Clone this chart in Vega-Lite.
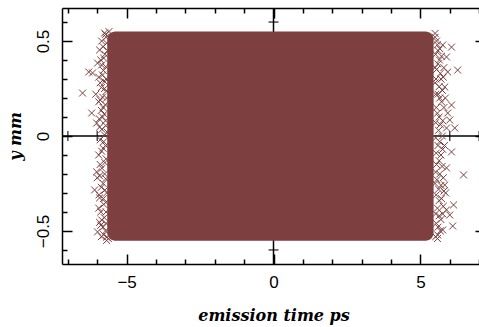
{
  "$schema": "https://vega.github.io/schema/vega-lite/v6.json",
  "width": 423,
  "height": 256,
  "autosize": {"type": "none"},
  "padding": {"left": 62, "top": 8, "right": -6, "bottom": 63},
  "background": "white",
  "config": {
    "view": {"stroke": null},
    "axis": {
      "grid": false,
      "domainColor": "black",
      "domainWidth": 1.5,
      "tickColor": "black",
      "tickWidth": 1.5,
      "labelFont": "Liberation Sans",
      "labelFontSize": 17,
      "labelColor": "black",
      "titleFont": "DejaVu Serif",
      "titleFontStyle": "italic",
      "titleFontWeight": "bold",
      "titleFontSize": 16,
      "titleColor": "black"
    }
  },
  "datasets": {
    "block": [{"x1": -5.66, "x2": 5.45, "y1": -0.552, "y2": 0.55}],
    "zero": [{"v": 0}],
    "xticks": [
      {"x": -7, "y": 0}, {"x": -6, "y": 0}, {"x": -5, "y": 0}, {"x": -4, "y": 0}, {"x": -3, "y": 0},
      {"x": -2, "y": 0}, {"x": -1, "y": 0}, {"x": 0, "y": 0}, {"x": 1, "y": 0}, {"x": 2, "y": 0},
      {"x": 3, "y": 0}, {"x": 4, "y": 0}, {"x": 5, "y": 0}, {"x": 6, "y": 0}, {"x": 7, "y": 0}
    ],
    "yticks": [
      {"x": 0, "y": -0.6}, {"x": 0, "y": -0.5}, {"x": 0, "y": -0.4}, {"x": 0, "y": -0.3},
      {"x": 0, "y": -0.2}, {"x": 0, "y": -0.1}, {"x": 0, "y": 0}, {"x": 0, "y": 0.1},
      {"x": 0, "y": 0.2}, {"x": 0, "y": 0.3}, {"x": 0, "y": 0.4}, {"x": 0, "y": 0.5}, {"x": 0, "y": 0.6}
    ],
    "pts": [
      {"x": -5.75, "y": 0.542}, {"x": -5.68, "y": 0.489}, {"x": -5.92, "y": 0.453}, {"x": -5.99, "y": 0.384},
      {"x": -5.85, "y": 0.374}, {"x": -6.29, "y": 0.337}, {"x": -6.16, "y": 0.332}, {"x": -5.82, "y": 0.321},
      {"x": -6.5, "y": 0.226}, {"x": -6.19, "y": 0.121}, {"x": -6.02, "y": 0.068}, {"x": -5.92, "y": 0.047},
      {"x": -5.82, "y": 0.1}, {"x": -6.02, "y": -0.189}, {"x": -6.09, "y": -0.284}, {"x": -5.92, "y": -0.326},
      {"x": -5.85, "y": -0.442}, {"x": -5.99, "y": -0.505}, {"x": -5.68, "y": -0.532},
      {"x": -5.7, "y": 0.52}, {"x": -5.65, "y": 0.45}, {"x": -5.78, "y": 0.41}, {"x": -5.7, "y": 0.3},
      {"x": -5.75, "y": 0.25}, {"x": -5.68, "y": 0.2}, {"x": -5.8, "y": 0.15}, {"x": -5.72, "y": 0.08},
      {"x": -5.66, "y": 0.02}, {"x": -5.78, "y": -0.03}, {"x": -5.85, "y": -0.08}, {"x": -5.7, "y": -0.12},
      {"x": -5.9, "y": -0.15}, {"x": -5.75, "y": -0.2}, {"x": -5.8, "y": -0.25}, {"x": -5.68, "y": -0.3},
      {"x": -5.78, "y": -0.36}, {"x": -5.7, "y": -0.4}, {"x": -5.88, "y": -0.47}, {"x": -5.72, "y": -0.5},
      {"x": -5.62, "y": -0.54}, {"x": -5.95, "y": 0.18}, {"x": -5.9, "y": 0.28}, {"x": -6.0, "y": -0.22},
      {"x": -5.95, "y": -0.38}, {"x": -6.05, "y": 0.22}, {"x": -5.85, "y": 0.5}, {"x": -5.6, "y": 0.55},
      {"x": -5.72, "y": 0.535}, {"x": -5.8, "y": 0.47}, {"x": -5.74, "y": 0.43}, {"x": -5.88, "y": 0.4},
      {"x": -5.71, "y": 0.365}, {"x": -5.79, "y": 0.345}, {"x": -5.95, "y": 0.31}, {"x": -5.74, "y": 0.285},
      {"x": -5.86, "y": 0.255}, {"x": -5.7, "y": 0.235}, {"x": -5.82, "y": 0.205}, {"x": -5.9, "y": 0.19},
      {"x": -5.73, "y": 0.165}, {"x": -5.86, "y": 0.135}, {"x": -5.76, "y": 0.115}, {"x": -5.93, "y": 0.09},
      {"x": -5.71, "y": 0.055}, {"x": -5.84, "y": 0.035}, {"x": -5.75, "y": 0.005}, {"x": -5.9, "y": -0.02},
      {"x": -5.72, "y": -0.05}, {"x": -5.8, "y": -0.065}, {"x": -5.95, "y": -0.1}, {"x": -5.74, "y": -0.14},
      {"x": -5.84, "y": -0.17}, {"x": -5.92, "y": -0.21}, {"x": -5.71, "y": -0.225}, {"x": -5.86, "y": -0.27},
      {"x": -5.74, "y": -0.285}, {"x": -5.94, "y": -0.31}, {"x": -5.79, "y": -0.33}, {"x": -5.71, "y": -0.35},
      {"x": -5.88, "y": -0.4}, {"x": -5.76, "y": -0.43}, {"x": -5.92, "y": -0.455}, {"x": -5.8, "y": -0.48},
      {"x": -5.7, "y": -0.46}, {"x": -5.78, "y": -0.52}, {"x": -5.86, "y": -0.53}, {"x": -5.68, "y": -0.55},
      {"x": 5.76, "y": 0.479}, {"x": 6.06, "y": 0.468}, {"x": 5.89, "y": 0.416}, {"x": 6.27, "y": 0.347},
      {"x": 5.93, "y": 0.337}, {"x": 5.83, "y": 0.258}, {"x": 6.06, "y": 0.163}, {"x": 5.93, "y": 0.121},
      {"x": 6.0, "y": 0.084}, {"x": 6.17, "y": 0.042}, {"x": 5.89, "y": 0.042}, {"x": 6.06, "y": -0.084},
      {"x": 5.89, "y": -0.168}, {"x": 6.47, "y": -0.205}, {"x": 5.83, "y": -0.258}, {"x": 5.86, "y": -0.3},
      {"x": 6.13, "y": -0.363}, {"x": 5.89, "y": -0.389}, {"x": 6.0, "y": -0.416}, {"x": 6.1, "y": -0.474},
      {"x": 5.76, "y": -0.495}, {"x": 5.59, "y": -0.521},
      {"x": 5.5, "y": 0.54}, {"x": 5.55, "y": 0.5}, {"x": 5.6, "y": 0.45}, {"x": 5.65, "y": 0.4},
      {"x": 5.55, "y": 0.35}, {"x": 5.7, "y": 0.3}, {"x": 5.6, "y": 0.22}, {"x": 5.72, "y": 0.18},
      {"x": 5.58, "y": 0.12}, {"x": 5.68, "y": 0.06}, {"x": 5.75, "y": 0.0}, {"x": 5.6, "y": -0.05},
      {"x": 5.7, "y": -0.1}, {"x": 5.55, "y": -0.15}, {"x": 5.78, "y": -0.22}, {"x": 5.62, "y": -0.28},
      {"x": 5.72, "y": -0.33}, {"x": 5.58, "y": -0.38}, {"x": 5.7, "y": -0.44}, {"x": 5.6, "y": -0.48},
      {"x": 5.52, "y": -0.53}, {"x": 5.8, "y": 0.36}, {"x": 5.82, "y": -0.05}, {"x": 5.85, "y": 0.2},
      {"x": 5.5, "y": 0.28}, {"x": 5.5, "y": -0.25},
      {"x": 5.5, "y": 0.52}, {"x": 5.58, "y": 0.48}, {"x": 5.66, "y": 0.46}, {"x": 5.52, "y": 0.43},
      {"x": 5.72, "y": 0.42}, {"x": 5.6, "y": 0.38}, {"x": 5.5, "y": 0.36}, {"x": 5.68, "y": 0.33},
      {"x": 5.78, "y": 0.31}, {"x": 5.53, "y": 0.3}, {"x": 5.64, "y": 0.26}, {"x": 5.75, "y": 0.24},
      {"x": 5.52, "y": 0.22}, {"x": 5.66, "y": 0.2}, {"x": 5.8, "y": 0.15}, {"x": 5.54, "y": 0.15},
      {"x": 5.64, "y": 0.1}, {"x": 5.76, "y": 0.08}, {"x": 5.52, "y": 0.07}, {"x": 5.62, "y": 0.03},
      {"x": 5.52, "y": -0.01}, {"x": 5.66, "y": -0.03}, {"x": 5.76, "y": -0.07}, {"x": 5.54, "y": -0.09},
      {"x": 5.64, "y": -0.13}, {"x": 5.74, "y": -0.16}, {"x": 5.52, "y": -0.19}, {"x": 5.66, "y": -0.2},
      {"x": 5.56, "y": -0.23}, {"x": 5.7, "y": -0.26}, {"x": 5.8, "y": -0.29}, {"x": 5.54, "y": -0.31},
      {"x": 5.64, "y": -0.34}, {"x": 5.78, "y": -0.37}, {"x": 5.52, "y": -0.41}, {"x": 5.64, "y": -0.42},
      {"x": 5.76, "y": -0.41}, {"x": 5.54, "y": -0.46}, {"x": 5.68, "y": -0.5}, {"x": 5.58, "y": -0.54}
    ]
  },
  "layer": [
    {
      "data": {"name": "zero"},
      "mark": {"type": "rule", "color": "black", "strokeWidth": 1.5},
      "encoding": {
        "y": {"field": "v", "type": "quantitative", "scale": {"domain": [-0.674, 0.674], "nice": false, "zero": false}, "axis": null}
      }
    },
    {
      "data": {"name": "zero"},
      "mark": {"type": "rule", "color": "black", "strokeWidth": 1.5},
      "encoding": {
        "x": {"field": "v", "type": "quantitative", "scale": {"domain": [-7.2, 7.2], "nice": false, "zero": false}, "axis": null}
      }
    },
    {
      "data": {"name": "xticks"},
      "mark": {"type": "tick", "orient": "vertical", "color": "black", "size": 10, "thickness": 1.5},
      "encoding": {
        "x": {
          "field": "x", "type": "quantitative",
          "scale": {"domain": [-7.2, 7.2], "nice": false, "zero": false},
          "axis": {
            "orient": "bottom",
            "values": [-7, -6, -5, -4, -3, -2, -1, 0, 1, 2, 3, 4, 5, 6, 7],
            "tickSize": {"condition": {"test": "datum.value % 5 === 0", "value": -10}, "value": -5},
            "labelExpr": "datum.value === 0 ? '0' : datum.value === 5 ? '5' : datum.value === -5 ? '\u22125' : ''",
            "labelPadding": 20,
            "title": "emission time ps",
            "titlePadding": 17
          }
        },
        "y": {
          "field": "y", "type": "quantitative",
          "scale": {"domain": [-0.674, 0.674], "nice": false, "zero": false},
          "axis": {
            "orient": "left",
            "values": [-0.6, -0.5, -0.4, -0.3, -0.2, -0.1, 0, 0.1, 0.2, 0.3, 0.4, 0.5, 0.6],
            "tickSize": {"condition": {"test": "abs(datum.value*2 - round(datum.value*2)) < 0.001", "value": -10}, "value": -5},
            "labelExpr": "abs(datum.value) < 0.001 ? '0' : abs(abs(datum.value) - 0.5) < 0.001 ? (datum.value < 0 ? '\u22120.5' : '0.5') : ''",
            "labelAngle": 270,
            "labelAlign": "center",
            "labelBaseline": "bottom",
            "labelPadding": 20,
            "title": "y mm",
            "titlePadding": 11
          }
        }
      }
    },
    {
      "data": {"name": "yticks"},
      "mark": {"type": "tick", "orient": "horizontal", "color": "black", "size": 10, "thickness": 1.5},
      "encoding": {
        "x": {
          "field": "x", "type": "quantitative",
          "scale": {"domain": [-7.2, 7.2], "nice": false, "zero": false},
          "axis": {
            "orient": "top",
            "values": [-7, -6, -5, -4, -3, -2, -1, 0, 1, 2, 3, 4, 5, 6, 7],
            "tickSize": {"condition": {"test": "datum.value % 5 === 0", "value": -10}, "value": -5},
            "labels": false,
            "title": null
          }
        },
        "y": {
          "field": "y", "type": "quantitative",
          "scale": {"domain": [-0.674, 0.674], "nice": false, "zero": false},
          "axis": {
            "orient": "right",
            "values": [-0.6, -0.5, -0.4, -0.3, -0.2, -0.1, 0, 0.1, 0.2, 0.3, 0.4, 0.5, 0.6],
            "tickSize": {"condition": {"test": "abs(datum.value*2 - round(datum.value*2)) < 0.001", "value": -10}, "value": -5},
            "labels": false,
            "title": null
          }
        }
      }
    },
    {
      "data": {"name": "block"},
      "mark": {"type": "rect", "color": "#7d3f3f", "cornerRadius": 8},
      "encoding": {
        "x": {"field": "x1", "type": "quantitative", "scale": {"domain": [-7.2, 7.2], "nice": false, "zero": false}, "axis": null},
        "x2": {"field": "x2"},
        "y": {"field": "y1", "type": "quantitative", "scale": {"domain": [-0.674, 0.674], "nice": false, "zero": false}, "axis": null},
        "y2": {"field": "y2"}
      }
    },
    {
      "data": {"name": "pts"},
      "mark": {"type": "point", "shape": "M-1,-1L1,1M-1,1L1,-1", "filled": false, "color": "#7d3f3f", "opacity": 1, "size": 48, "strokeWidth": 1},
      "encoding": {
        "x": {"field": "x", "type": "quantitative", "scale": {"domain": [-7.2, 7.2], "nice": false, "zero": false}, "axis": null},
        "y": {"field": "y", "type": "quantitative", "scale": {"domain": [-0.674, 0.674], "nice": false, "zero": false}, "axis": null}
      }
    }
  ],
  "resolve": {"axis": {"x": "independent", "y": "independent"}}
}
